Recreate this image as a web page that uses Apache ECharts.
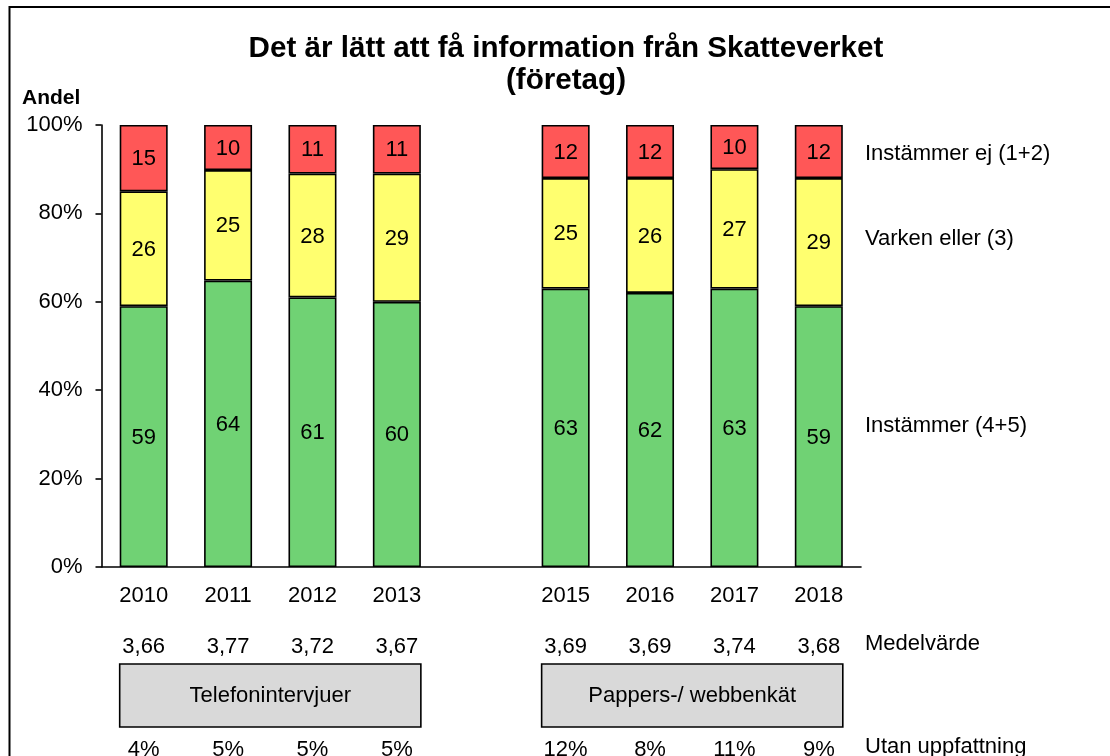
<!DOCTYPE html>
<html>
<head>
<meta charset="utf-8">
<script src="https://cdn.jsdelivr.net/npm/echarts@6/dist/echarts.min.js"></script>
<style>
html,body{margin:0;padding:0;background:#fff;}
#chart{width:1110px;height:756px;}
</style>
</head>
<body>
<div id="chart"></div>
<script>
// ---- data ----
const categories = ['2010', '2011', '2012', '2013', '', '2015', '2016', '2017', '2018'];
const instammer = [59, 64.8, 61, 60, null, 63, 62, 63, 59];      // Instämmer (4+5)
const varken = [26, 25, 28, 29, null, 25, 26, 27, 29];            // Varken eller (3)
const instammerEj = [15, 10.2, 11, 11, null, 12, 12, 10, 12];     // Instämmer ej (1+2)
const instammerLabels = ['59', '64', '61', '60', '', '63', '62', '63', '59'];
const varkenLabels = ['26', '25', '28', '29', '', '25', '26', '27', '29'];
const instammerEjLabels = ['15', '10', '11', '11', '', '12', '12', '10', '12'];
const medelvarde = ['3,66', '3,77', '3,72', '3,67', '', '3,69', '3,69', '3,74', '3,68'];
const utanUppfattning = ['4%', '5%', '5%', '5%', '', '12%', '8%', '11%', '9%'];
const yTicks = [0, 20, 40, 60, 80, 100];
const methodGroups = [
  { name: 'Telefonintervjuer', from: '2010', to: '2013' },
  { name: 'Pappers-/ webbenkät', from: '2015', to: '2018' }
];

// ---- chart ----
const FONT = 'Liberation Sans, Arial, sans-serif';
const FS = 22;
const chart = echarts.init(document.getElementById('chart'), null, { renderer: 'canvas' });
const BAR_W = 48;

function barSeries(name, data, labels, color) {
  return {
    name: name,
    type: 'bar',
    stack: 'total',
    data: data,
    barWidth: BAR_W,
    itemStyle: { color: color, borderColor: '#000', borderWidth: 1.6 },
    label: {
      show: true,
      position: 'inside',
      color: '#000',
      fontSize: FS,
      fontFamily: FONT,
      offset: [0, 1],
      formatter: p => labels[p.dataIndex]
    },
    emphasis: { disabled: true },
    animation: false
  };
}

function subAxis(data, offset) {
  return {
    type: 'category',
    data: data,
    position: 'bottom',
    offset: offset,
    axisLine: { show: false },
    axisTick: { show: false },
    axisLabel: { color: '#000', fontSize: FS, fontFamily: FONT, margin: 18, interval: 0 }
  };
}

chart.setOption({
  backgroundColor: '#fff',
  animation: false,
  grid: { left: 101.5, right: 249, top: 125, bottom: 189, containLabel: false, outerBoundsMode: 'none' },
  xAxis: [
    {
      type: 'category',
      data: categories,
      axisLine: { show: true, lineStyle: { color: '#000', width: 1.6 } },
      axisTick: { show: false },
      axisLabel: { color: '#000', fontSize: FS, fontFamily: FONT, margin: 18, interval: 0 }
    },
    subAxis(medelvarde, 51),
    subAxis(utanUppfattning, 154)
  ],
  yAxis: {
    type: 'value',
    min: yTicks[0],
    max: yTicks[yTicks.length - 1],
    interval: yTicks[1] - yTicks[0],
    splitLine: { show: false },
    axisLine: { show: true, lineStyle: { color: '#000', width: 1.6 } },
    axisTick: { show: true, inside: false, length: 6, lineStyle: { color: '#000', width: 1.6 } },
    axisLabel: { color: '#000', fontSize: FS, fontFamily: FONT, margin: 19, formatter: '{value}%' }
  },
  series: [
    barSeries('Instämmer (4+5)', instammer, instammerLabels, '#70D274'),
    barSeries('Varken eller (3)', varken, varkenLabels, '#FFFF6F'),
    barSeries('Instämmer ej (1+2)', instammerEj, instammerEjLabels, '#FF5757')
  ]
});

// ---- annotations positioned with the chart's own scales ----
const graphics = [];
graphics.push({
  type: 'rect', z: 0, silent: true,
  shape: { x: 9.5, y: 7, width: 1200, height: 800 },
  style: { fill: 'none', stroke: '#000', lineWidth: 2 }
});
graphics.push({
  type: 'text', z: 10, x: 566, y: 49,
  style: { text: 'Det är lätt att få information från Skatteverket', fontSize: 29.6, fontWeight: 'bold', fontFamily: FONT, fill: '#000', textAlign: 'center', textVerticalAlign: 'middle' }
});
graphics.push({
  type: 'text', z: 10, x: 566, y: 81,
  style: { text: '(företag)', fontSize: 29.6, fontWeight: 'bold', fontFamily: FONT, fill: '#000', textAlign: 'center', textVerticalAlign: 'middle' }
});
graphics.push({
  type: 'text', z: 10, x: 22, y: 98,
  style: { text: 'Andel', fontSize: 21, fontWeight: 'bold', fontFamily: FONT, fill: '#000', textAlign: 'left', textVerticalAlign: 'middle' }
});

const rightLabels = [
  { text: 'Instämmer ej (1+2)', y: 154 },
  { text: 'Varken eller (3)', y: 239 },
  { text: 'Instämmer (4+5)', y: 426 },
  { text: 'Medelvärde', y: 644 },
  { text: 'Utan uppfattning', y: 747 }
];
rightLabels.forEach(l => graphics.push({
  type: 'text', z: 10, x: 865, y: l.y,
  style: { text: l.text, fontSize: FS, fontFamily: FONT, fill: '#000', textAlign: 'left', textVerticalAlign: 'middle' }
}));

methodGroups.forEach(g => {
  const x1 = chart.convertToPixel({ xAxisIndex: 0 }, g.from) - BAR_W / 2;
  const x2 = chart.convertToPixel({ xAxisIndex: 0 }, g.to) + BAR_W / 2;
  const y1 = 664, y2 = 727;
  graphics.push({
    type: 'rect', z: 5, silent: true,
    shape: { x: x1, y: y1, width: x2 - x1, height: y2 - y1 },
    style: { fill: '#D9D9D9', stroke: '#000', lineWidth: 1.6 }
  });
  graphics.push({
    type: 'text', z: 6, x: (x1 + x2) / 2, y: (y1 + y2) / 2,
    style: { text: g.name, fontSize: FS, fontFamily: FONT, fill: '#000', textAlign: 'center', textVerticalAlign: 'middle' }
  });
});

chart.setOption({ graphic: graphics });
</script>
</body>
</html>
